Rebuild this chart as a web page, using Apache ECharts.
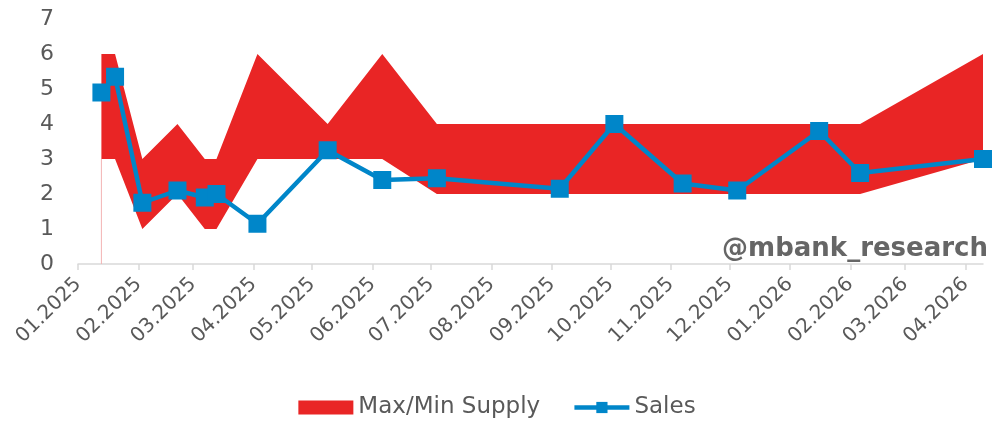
<!DOCTYPE html>
<html>
<head>
<meta charset="utf-8">
<script src="https://cdn.jsdelivr.net/npm/echarts@6/dist/echarts.min.js"></script>
<style>
  html, body { margin: 0; padding: 0; background: #fff; }
  #chart { width: 994px; height: 421px; }
</style>
</head>
<body>
<div id="chart"></div>
<script>
// observation dates (both series share them)
const dates = ['2025-01-13', '2025-01-20', '2025-02-03', '2025-02-21', '2025-03-07', '2025-03-13',
  '2025-04-03', '2025-05-09', '2025-06-06', '2025-07-04', '2025-09-05', '2025-10-03',
  '2025-11-07', '2025-12-05', '2026-01-16', '2026-02-06', '2026-04-10']
const sales = [4.9, 5.35, 1.75, 2.1, 1.9, 2.0, 1.15, 3.25, 2.4, 2.45, 2.15, 4.0, 2.3, 2.1, 3.8, 2.6, 3.0]
const supplyMin = [3, 3, 1, 2, 1, 1, 3, 3, 3, 2, 2, 2, 2, 2, 2, 2, 3]
const supplyMax = [6, 6, 3, 4, 3, 3, 6, 4, 6, 4, 4, 4, 4, 4, 4, 4, 6]
// month ticks on the date axis
const monthTicks = ['2025-01-01', '2025-02-01', '2025-03-01', '2025-04-01', '2025-05-01', '2025-06-01',
  '2025-07-01', '2025-08-01', '2025-09-01', '2025-10-01', '2025-11-01', '2025-12-01',
  '2026-01-01', '2026-02-01', '2026-03-01', '2026-04-01']
const yTicks = [0, 1, 2, 3, 4, 5, 6, 7]

// dates as UTC timestamps, the x axis is a plain value axis
const ts = s => Date.parse(s + 'T00:00:00Z')
const tickValues = monthTicks.map(ts)
const RED = '#E92525'
const BLUE = '#0086C9'
const FONT = '"DejaVu Sans", sans-serif'

// min/max band as one polygon through the axes
function renderBand(params, api) {
  if (params.dataIndex !== 0) return null
  const top = dates.map((d, i) => api.coord([ts(d), supplyMax[i]]))
  const bottom = dates.map((d, i) => api.coord([ts(d), supplyMin[i]])).reverse()
  const p0 = api.coord([ts(dates[0]), 0])
  const p1 = api.coord([ts(dates[0]), supplyMin[0]])
  return {
    type: 'group',
    children: [
      { type: 'line', shape: { x1: p0[0], y1: p0[1], x2: p1[0], y2: p1[1] }, style: { stroke: '#f3b3b3', lineWidth: 1 } },
      { type: 'polygon', shape: { points: top.concat(bottom) }, style: { fill: RED } }
    ]
  }
}

const chart = echarts.init(document.getElementById('chart'))
chart.setOption({
  animation: false,
  grid: { left: 78, right: 11, top: 19, bottom: 157, containLabel: false },
  legend: {
    bottom: -3,
    left: 'center',
    itemWidth: 55,
    itemHeight: 14,
    itemGap: 32,
    textStyle: { color: '#595959', fontSize: 23, fontFamily: FONT },
    data: [
      { name: 'Max/Min Supply', icon: 'rect' },
      { name: 'Sales', lineStyle: { width: 4.5 } }
    ]
  },
  xAxis: {
    type: 'value',
    min: tickValues[0],
    max: ts(dates[dates.length - 1]),
    splitLine: { show: false },
    axisLine: { lineStyle: { color: '#d9d9d9', width: 1.5 } },
    axisTick: { show: true, length: 6, lineStyle: { color: '#d9d9d9', width: 1.5 }, customValues: tickValues },
    axisLabel: {
      customValues: tickValues,
      rotate: 45,
      margin: 17,
      color: '#595959',
      fontSize: 20,
      fontFamily: FONT,
      formatter: function(v) {
        const d = new Date(v)
        const m = d.getUTCMonth() + 1
        return (m < 10 ? '0' + m : m) + '.' + d.getUTCFullYear()
      }
    }
  },
  yAxis: {
    type: 'value',
    min: yTicks[0],
    max: yTicks[yTicks.length - 1],
    interval: 1,
    splitLine: { show: false },
    axisLine: { show: false },
    axisTick: { show: false },
    axisLabel: { color: '#595959', fontSize: 22, fontFamily: FONT, margin: 24 }
  },
  graphic: [{
    type: 'text',
    x: 988,
    y: 262,
    z: 10,
    style: {
      text: '@mbank_research',
      align: 'right',
      verticalAlign: 'bottom',
      fill: '#666666',
      font: 'bold 26px ' + FONT
    }
  }],
  series: [
    {
      name: 'Max/Min Supply',
      type: 'custom',
      z: 1,
      itemStyle: { color: RED },
      renderItem: renderBand,
      data: dates.map((d, i) => [ts(d), supplyMin[i], supplyMax[i]])
    },
    {
      name: 'Sales',
      type: 'line',
      z: 3,
      symbol: 'rect',
      symbolSize: 18,
      itemStyle: { color: BLUE },
      lineStyle: { color: BLUE, width: 4.5 },
      data: dates.map((d, i) => [ts(d), sales[i]])
    }
  ]
})
</script>
</body>
</html>
